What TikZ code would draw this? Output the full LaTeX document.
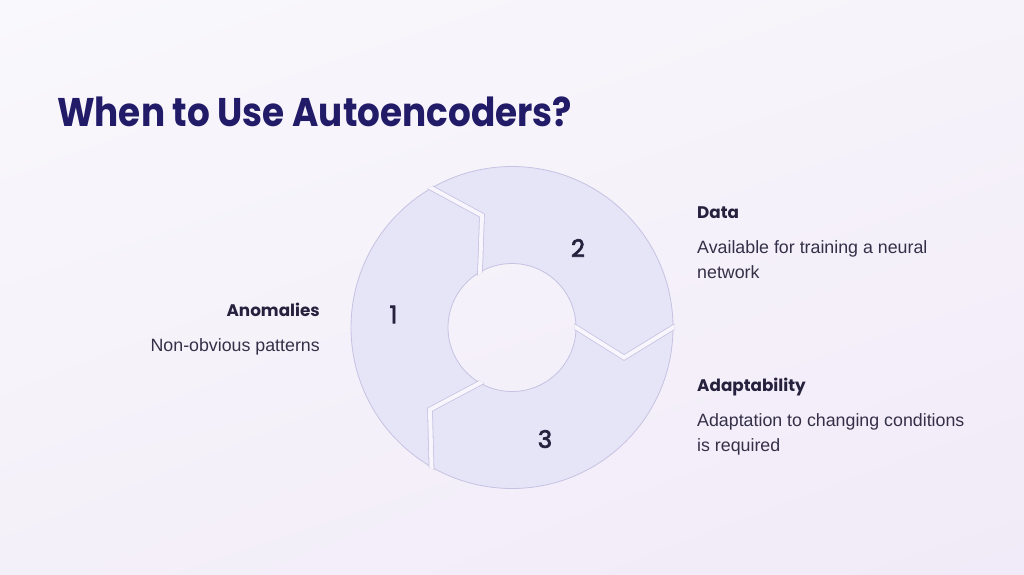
\documentclass[tikz,border=0pt]{standalone}
\usepackage{fontspec}
\setmainfont{Liberation Sans}
\newfontfamily\popfont{Poppins}
\newfontfamily\popnum{Poppins}[FakeBold=3]
\usetikzlibrary{calc,shadings}
\definecolor{bgA}{RGB}{249,248,252}
\definecolor{bgB}{RGB}{246,243,250}
\definecolor{bgC}{RGB}{244,240,249}
\definecolor{bgD}{RGB}{241,234,248}
\definecolor{gapcol}{RGB}{248,246,252}
\definecolor{segfill}{RGB}{230,228,247}
\definecolor{segline}{RGB}{198,194,226}
\definecolor{titlecol}{RGB}{33,27,104}
\definecolor{headcol}{RGB}{38,34,62}
\definecolor{bodycol}{RGB}{52,48,72}
\tikzset{
  titletext/.style={font=\popfont\bfseries\fontsize{40}{48}\selectfont, text=titlecol, inner sep=0pt},
  headtext/.style={font=\popfont\bfseries\fontsize{16.8}{20}\selectfont, text=headcol, inner sep=0pt},
  bodytext/.style={font=\fontsize{17.8}{25.5}\selectfont, text=bodycol, inner sep=0pt, align=left},
  numtext/.style={font=\popnum\fontsize{24}{28}\selectfont, text=headcol, inner sep=0pt},
  gapline/.style={draw=segline, line width=0.8pt, double=gapcol, double distance=4pt, line cap=butt, line join=miter},
}
\begin{document}
\begin{tikzpicture}[x=1pt,y=1pt]
\useasboundingbox (0,0) rectangle (1024,-574);
\shade[upper left=bgA, upper right=bgB, lower left=bgC, lower right=bgD] (0,0) rectangle (1024,-574);

\coordinate (C) at (512,-327.5);
\def\Ro{161}
\def\Ri{64}
\def\Rm{116}

% ring
\fill[segfill, even odd rule] (C) circle[radius=\Ro] (C) circle[radius=\Ri];
\draw[segline, line width=0.8pt] (C) circle[radius=\Ro];
\draw[segline, line width=0.8pt] (C) circle[radius=\Ri];

% chevron gaps
\begin{scope}[even odd rule]
  \clip (C) circle[radius=\Ro+1.5] (C) circle[radius=\Ri-1.5];
  \foreach \b [count=\i] in {120,0,240} {
    \coordinate (o\i) at ($(C)+(\b:\Ro)$);
    \coordinate (k\i) at ($(C)+(\b-15:\Rm)$);
    \coordinate (n\i) at ($(C)+(\b:\Ri)$);
    \draw[gapline] ($(k\i)!1.2!(o\i)$) -- (k\i) -- ($(k\i)!1.3!(n\i)$);
  }
\end{scope}

% title
\node[titletext, anchor=base west] (title) at (57,-126) {\scalebox{0.895}[1]{When to Use Autoencoders?}};

% numbers
\node[numtext] (n1) at (393.5,-314.5) {1};
\node[numtext] (n2) at (578,-248) {2};
\node[numtext] (n3) at (545,-439) {3};

% labels
\node[headtext, anchor=base east] (h1) at (320,-316.5) {Anomalies};
\node[bodytext, anchor=base east] (b1) at (320,-351.5) {Non-obvious patterns};

\node[headtext, anchor=base west] (h2) at (697,-218.5) {Data};
\node[bodytext, anchor=base west] (b2a) at (697,-253) {Available for training a neural};
\node[bodytext, anchor=base west] (b2b) at (697,-278.5) {network};

\node[headtext, anchor=base west] (h3) at (697,-391.5) {Adaptability};
\node[bodytext, anchor=base west] (b3a) at (697,-426) {Adaptation to changing conditions};
\node[bodytext, anchor=base west] (b3b) at (697,-451) {is required};
\end{tikzpicture}
\end{document}
